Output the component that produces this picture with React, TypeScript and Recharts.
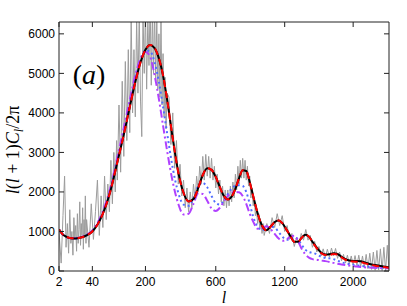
import { Line, LineChart, XAxis, YAxis } from "recharts";

// multipole grid for the model curves
const thL = [2, 4, 6, 10, 15, 20, 30, 40, 60, 80, 100, 120, 140, 160, 180, 200, 220, 240, 260, 280, 300, 330, 360, 390, 420, 450, 480, 510, 540, 570, 600, 630, 660, 690, 720, 750, 780, 810, 840, 870, 900, 940, 980, 1020, 1060, 1100, 1140, 1180, 1220, 1260, 1300, 1340, 1380, 1420, 1460, 1500, 1550, 1600, 1650, 1700, 1750, 1800, 1850, 1900, 1950, 2000, 2050, 2100, 2150, 2200, 2300, 2400, 2500];

const black = [1050, 920, 870, 830, 825, 840, 900, 1000, 1400, 2000, 2750, 3450, 4150, 4780, 5280, 5600, 5720, 5640, 5380, 4950, 4350, 3350, 2500, 1980, 1760, 1820, 2100, 2430, 2600, 2560, 2380, 2120, 1900, 1810, 1880, 2080, 2350, 2550, 2530, 2250, 1900, 1460, 1150, 1030, 1120, 1240, 1280, 1200, 1040, 880, 740, 740, 840, 920, 870, 740, 590, 470, 420, 425, 450, 430, 360, 300, 265, 255, 255, 245, 220, 190, 150, 120, 95];
const red = [1050, 920, 870, 830, 825, 840, 900, 1000, 1400, 2000, 2750, 3450, 4150, 4780, 5280, 5600, 5720, 5640, 5380, 4950, 4350, 3350, 2500, 1980, 1760, 1820, 2100, 2430, 2600, 2560, 2380, 2120, 1900, 1810, 1880, 2080, 2350, 2550, 2530, 2250, 1900, 1460, 1150, 1030, 1120, 1240, 1280, 1200, 1040, 880, 740, 740, 840, 920, 870, 735, 575, 455, 405, 405, 430, 415, 345, 285, 250, 238, 235, 225, 200, 172, 135, 105, 85];
const blue = [1050, 920, 870, 830, 825, 840, 905, 1010, 1420, 2030, 2800, 3520, 4230, 4860, 5330, 5580, 5560, 5280, 4780, 4150, 3500, 2600, 1980, 1680, 1650, 1840, 2150, 2230, 2120, 1900, 1720, 1680, 1780, 1950, 2080, 2160, 2170, 2150, 2000, 1700, 1380, 1120, 1040, 1060, 1120, 1100, 980, 860, 790, 810, 850, 800, 660, 540, 480, 460, 420, 360, 330, 320, 300, 260, 220, 195, 175, 160, 145, 130, 120, 110, 95, 85, 80];
const purple = [1050, 920, 870, 830, 830, 850, 920, 1030, 1460, 2080, 2870, 3620, 4330, 4950, 5380, 5550, 5420, 4950, 4350, 3680, 3050, 2250, 1700, 1430, 1450, 1700, 1960, 1950, 1780, 1580, 1520, 1600, 1760, 1900, 1980, 2000, 1990, 1900, 1700, 1450, 1250, 1070, 1080, 1130, 1060, 940, 820, 765, 800, 870, 890, 760, 560, 420, 340, 300, 285, 265, 250, 230, 205, 185, 165, 150, 138, 125, 112, 102, 94, 88, 80, 72, 68];

// observed (noisy) spectrum
const obsL = [
  2, 3, 4, 5, 6, 7, 8, 9, 10, 11, 12, 13, 14, 15, 16, 17, 18, 19, 20, 21, 22, 23, 24, 25, 26, 27, 28, 29,
  30, 34, 38, 42, 46, 50, 54, 58, 62, 66, 70, 74, 78, 82, 86, 90, 94, 98,
  100, 105, 110, 115, 120, 125, 130, 135, 140, 145, 150, 155, 160, 165, 170, 175, 180, 185, 190, 195, 200,
  205, 210, 215, 220, 225, 230, 235, 240, 245, 250, 255, 260, 265, 270, 275, 280, 285, 290, 295, 300,
  310, 320, 330, 340, 350, 360, 370, 380, 390, 400, 410, 420, 430, 440, 450, 460, 470, 480, 490, 500,
  510, 520, 530, 540, 550, 560, 570, 580, 590, 600, 610, 620, 630, 640, 650, 660, 670, 680, 690, 700,
  710, 720, 730, 740, 750, 760, 770, 780, 790, 800, 810, 820, 830, 840, 850, 860, 870, 880, 890, 900,
  910, 920, 930, 940, 950, 960, 970, 980, 990, 1000,
  1025, 1050, 1075, 1100, 1125, 1150, 1175, 1200, 1225, 1250, 1275, 1300, 1325, 1350, 1375, 1400, 1425, 1450, 1475, 1500,
  1525, 1550, 1575, 1600, 1625, 1650, 1675, 1700, 1725, 1750, 1775, 1800, 1825, 1850, 1875, 1900, 1925, 1950, 1975, 2000,
  2025, 2050, 2075, 2100, 2125, 2150, 2175, 2200, 2225, 2250, 2275, 2300, 2325, 2350, 2375, 2400, 2425, 2450, 2475, 2500,
];
const obsD = [
  1000, 200, 1400, 2400, 600, 1200, 450, 1550, 700, 1000, 400, 1350, 800, 1150, 500, 1450, 700, 1050, 1750, 650, 1200, 900, 1600, 550, 1300, 850, 1900, 700,
  1300, 600, 1700, 800, 1500, 2300, 900, 1900, 1100, 2400, 1300, 2200, 1500, 2800, 1700, 3000, 2000, 3300,
  2300, 4200, 2500, 4800, 2900, 5300, 3300, 5600, 3500, 6400, 4000, 5600, 3900, 6400, 4500, 6500, 4300, 3400, 6500, 5000, 6600,
  4600, 6400, 5200, 6800, 4700, 6500, 5000, 6600, 4800, 6400, 4600, 6000, 4400, 6400, 4200, 5500, 3900, 4900, 3600, 4500,
  4400, 3200, 4000, 2600, 3300, 2200, 2700, 1900, 2300, 1600, 2100, 1500, 2000, 1600, 2200, 1800, 2400, 2000, 2650, 2200,
  2900, 2300, 2950, 2400, 2900, 2350, 2850, 2300, 2650, 2100, 2450, 1950, 2300, 1750, 2150, 1650, 2050, 1600, 2050, 1650,
  2150, 1750, 2250, 1850, 2450, 2050, 2650, 2200, 2800, 2350, 2850, 2350, 2800, 2300, 2650, 2150, 2400, 1850, 2100, 1650,
  1800, 1400, 1550, 1200, 1450, 1050, 1250, 950, 1200, 900,
  1200, 950, 1350, 1100, 1450, 1150, 1400, 1000, 1150, 800, 950, 620, 850, 680, 950, 780, 1050, 780, 900, 600,
  750, 480, 620, 380, 560, 340, 550, 350, 580, 380, 570, 320, 480, 260, 420, 200, 400, 180, 380, 150,
  390, 140, 400, 110, 380, 90, 420, 60, 450, 40, 480, 20, 520, 30, 560, 10, 600, 0, 650, 20,
];

const xTicks = [2, 40, 200, 600, 1200, 2000];
const yTicks = [0, 1000, 2000, 3000, 4000, 5000, 6000];

const obsData = obsL.map((l, i) => ({ l, d: obsD[i] }));
const mk = (vals: number[]) => thL.map((l, i) => ({ l, d: vals[i] }));

const axisColor = "#222";
const sans = "Liberation Sans, Arial, sans-serif";
const serif = "Liberation Serif, Times New Roman, serif";

const XTick = ({ x, y, payload }: any) => (
  <text x={x} y={y} dy="0.71em" textAnchor="middle" fontSize={12} fill="#000" fontFamily={sans}>
    {payload.value}
  </text>
);

export default function App() {
  return (
    <div style={{ position: "absolute", left: 0, top: 0, width: 407, height: 306, background: "#fff" }}>
      <LineChart width={407} height={306} margin={{ top: 21, right: 17, bottom: 0, left: 0 }}>
        <XAxis
          type="number"
          dataKey="l"
          scale="sqrt"
          domain={[2, 2500]}
          allowDataOverflow
          ticks={xTicks}
          height={35}
          tickSize={-5}
          tickMargin={11}
          tick={<XTick />}
          stroke={axisColor}
          interval={0}
        />
        <XAxis
          xAxisId="top"
          orientation="top"
          type="number"
          dataKey="l"
          scale="sqrt"
          domain={[2, 2500]}
          allowDataOverflow
          ticks={xTicks}
          height={1}
          tickSize={-5}
          tickFormatter={() => ""}
          stroke={axisColor}
          interval={0}
        />
        <YAxis
          type="number"
          domain={[0, 6300]}
          allowDataOverflow
          ticks={yTicks}
          width={59}
          tickSize={-5}
          tickMargin={9}
          tick={{ fontSize: 12, fill: "#000", fontFamily: sans }}
          stroke={axisColor}
          interval={0}
        />
        <YAxis
          yAxisId="right"
          orientation="right"
          type="number"
          domain={[0, 6300]}
          allowDataOverflow
          ticks={yTicks}
          width={1}
          tickSize={-5}
          tickFormatter={() => ""}
          stroke={axisColor}
          interval={0}
        />
        <Line data={obsData} dataKey="d" type="linear" stroke="#9c9c9c" strokeWidth={1} dot={false} isAnimationActive={false} />
        <Line data={mk(blue)} dataKey="d" type="monotone" stroke="#4f6cff" strokeWidth={2} strokeDasharray="2 3" dot={false} isAnimationActive={false} />
        <Line data={mk(purple)} dataKey="d" type="monotone" stroke="#b040ff" strokeWidth={2} strokeDasharray="8 3 2 3" dot={false} isAnimationActive={false} />
        <Line data={mk(black)} dataKey="d" type="monotone" stroke="#000" strokeWidth={2} dot={false} isAnimationActive={false} />
        <Line data={mk(red)} dataKey="d" type="monotone" stroke="#ff0000" strokeWidth={2} strokeDasharray="7 4" dot={false} isAnimationActive={false} />
      </LineChart>
      <svg width={407} height={306} style={{ position: "absolute", left: 0, top: 0, pointerEvents: "none" }}>
        <text x={89} y={84} fontSize={28} textAnchor="middle" fontFamily={serif} fill="#000">
          (<tspan fontStyle="italic">a</tspan>)
        </text>
        <text x={224} y={303} fontSize={16} textAnchor="middle" fontFamily={serif} fontStyle="italic" fill="#000">
          l
        </text>
        <text transform="translate(19,150) rotate(-90)" textAnchor="middle" fontSize={18} fontFamily={serif} fill="#000">
          <tspan fontStyle="italic">l</tspan>(<tspan fontStyle="italic">l</tspan> + 1)<tspan fontStyle="italic">C</tspan>
          <tspan fontStyle="italic" fontSize={12} dy={4}>l</tspan>
          <tspan dy={-4}>/2π</tspan>
        </text>
      </svg>
    </div>
  );
}
